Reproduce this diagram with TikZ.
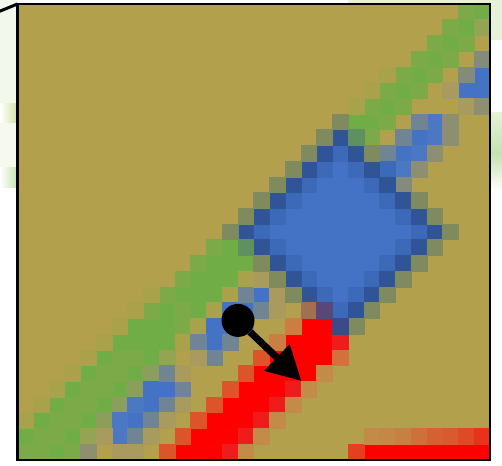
\documentclass[tikz,border=0pt]{standalone}
\usetikzlibrary{arrows.meta}
\definecolor{bgtan}{HTML}{B2A04C}
\definecolor{grn}{HTML}{70AD47}
\definecolor{grnl}{HTML}{7DAA48}
\definecolor{olv}{HTML}{A8A24B}
\definecolor{olvg}{HTML}{94A452}
\definecolor{grng}{HTML}{8C9E5C}
\definecolor{olvx}{HTML}{808A5F}
\definecolor{blu}{HTML}{4472C4}
\definecolor{blul}{HTML}{4A78C2}
\definecolor{blum}{HTML}{3C69B8}
\definecolor{blud}{HTML}{2F5597}
\definecolor{blug}{HTML}{6F8596}
\definecolor{grytan}{HTML}{A99A5E}
\definecolor{gry}{HTML}{8E8E70}
\definecolor{gryb}{HTML}{838B7B}
\definecolor{tealg}{HTML}{5E9060}
\definecolor{rd}{HTML}{FF0000}
\definecolor{rdl}{HTML}{EE1C1C}
\definecolor{orng}{HTML}{DC5429}
\definecolor{orngt}{HTML}{C28C48}
\definecolor{orngy}{HTML}{CC7E42}
\definecolor{orngm}{HTML}{D4703C}
\definecolor{brwn}{HTML}{A46E52}
\definecolor{purp}{HTML}{5A4678}
\definecolor{navy}{HTML}{3C4A8A}
\definecolor{streaka}{HTML}{CDE1A0}
\definecolor{streakb}{HTML}{C3E2AE}
\definecolor{haze}{HTML}{E6F1D8}
\begin{document}
\begin{tikzpicture}[x=15.75pt, y=-15.72pt, pix/.style={line width=0.6pt}]
  \useasboundingbox (-1.111,-0.254) rectangle (30.762,29.326);
  \fill[white] (-1.111,-0.254) rectangle (30.762,29.326);
  % backdrop round the frame
  \fill[haze!50] (-1.111,-0.254) rectangle (0,6.3);
  \shade[left color=white, right color=streaka] (-1.111,6.3) rectangle (0,7.57);
  \fill[haze!40] (-1.111,7.57) rectangle (0,10.43);
  \shade[left color=white, right color=streakb] (-1.111,10.43) rectangle (0,11.7);
  \fill[haze] (21,-0.254) rectangle (30.762,0);
  \fill[haze] (30,-0.254) rectangle (30.762,2.3);
  \shade[top color=haze, bottom color=streakb] (30,6.9) rectangle (30.762,9.5);
  \shade[top color=streakb, bottom color=white] (30,9.5) rectangle (30.762,11.9);
  % pixel grid
  \fill[bgtan] (0,0) rectangle (30,29);
  \foreach \c/\r in {29/0,28/1,27/2,26/3,25/4,24/5,23/6,21/7,22/7,13/15,12/16,13/16,14/16,11/17,12/17,13/17,10/18,11/18,12/18,9/19,11/19,7/20,8/20,9/20,6/21,7/21,8/21,9/21,5/22,8/22,4/23,7/23,3/24,6/24,2/25,5/25,1/26,4/26,0/27,3/27,2/28} \filldraw[pix, grn] (\c,\r) rectangle ++(1,1);
  \foreach \c/\r in {28/0,27/1,26/2,28/2,25/3,27/3,24/4,26/4,23/5,25/5,22/6,24/6,23/7,22/8,12/15,11/16,10/17,9/18,8/19,10/19,10/20,6/22,7/22,5/23,6/23,4/24,5/24,3/25,4/25,2/26,3/26,1/27,2/27,0/28,1/28,3/28} \filldraw[pix, grnl] (\c,\r) rectangle ++(1,1);
  \foreach \c/\r in {23/4,22/5,21/6,14/17,8/18,13/18,7/19,12/19,6/20,11/20,5/21,10/21,4/22,3/23,2/24,1/25,0/26} \filldraw[pix, olv] (\c,\r) rectangle ++(1,1);
  \foreach \c/\r in {29/1,9/22,4/27} \filldraw[pix, olvg] (\c,\r) rectangle ++(1,1);
  \foreach \c/\r in {8/23,7/24,6/25,5/26} \filldraw[pix, grng] (\c,\r) rectangle ++(1,1);
  % thin blue line
  \foreach \c/\r in {29/4,28/5,29/5,25/8,24/9,15/18,13/19,14/19,12/20,13/20,12/21,8/24,9/24,8/25,7/26} \filldraw[pix, blu] (\c,\r) rectangle ++(1,1);
  \foreach \c/\r in {26/7,26/8,25/9,24/10,7/25,6/26,6/27} \filldraw[pix, blul] (\c,\r) rectangle ++(1,1);
  \foreach \c/\r in {25/7,24/8,23/9,14/18,15/19,14/20,11/21,13/21,12/22,9/23,10/24,9/25,8/26,7/27} \filldraw[pix, blug] (\c,\r) rectangle ++(1,1);
  \foreach \c/\r in {27/5,28/6,15/17,16/18,16/19,11/22,10/23,10/25,9/26,5/27,8/27,6/28,7/28} \filldraw[pix, grytan] (\c,\r) rectangle ++(1,1);
  \foreach \c/\r in {29/6,27/7,27/8,26/9,25/10,4/28} \filldraw[pix, gry] (\c,\r) rectangle ++(1,1);
  \foreach \c/\r in {29/3,28/4,24/11} \filldraw[pix, gryb] (\c,\r) rectangle ++(1,1);
  % diamond
  \foreach \r/\a/\b in {11/19/21,12/18/22,13/17/23,14/16/24,15/17/23,16/18/22,17/19/21} \foreach \c in {\a,...,\b} \filldraw[pix, blu] (\c,\r) rectangle ++(1,1);
  \foreach \c/\r in {20/10,20/18} \filldraw[pix, blu] (\c,\r) rectangle ++(1,1);
  \foreach \c/\r in {20/9,19/10,21/10,23/10,18/11,22/11,17/12,23/12,16/13,24/13,15/14,25/14,16/15,24/15,17/16,23/16,18/17,22/17,19/18,21/18,20/19} \filldraw[pix, blum] (\c,\r) rectangle ++(1,1);
  \foreach \c/\r in {20/8,19/9,21/9,18/10,22/10,17/11,23/11,16/12,24/12,15/13,25/13,14/14,26/14,15/15,25/15,16/16,24/16,17/17,23/17,18/18,22/18,21/19} \filldraw[pix, blud] (\c,\r) rectangle ++(1,1);
  \foreach \c/\r in {20/7,19/8,18/9,22/9,17/10,16/11,15/12,25/12,14/13,26/13,13/14,27/14,26/15,15/16,25/16,16/17,24/17,17/18,23/18,22/19,21/20} \filldraw[pix, olvx] (\c,\r) rectangle ++(1,1);
  \foreach \c/\r in {21/8,14/15} \filldraw[pix, tealg] (\c,\r) rectangle ++(1,1);
  % red band
  \foreach \r/\a/\b in {20/18/19,21/17/19,22/16/19,23/15/18,24/14/16,25/13/15,26/12/14,27/11/13,28/10/12,28/22/29} \foreach \c in {\a,...,\b} \filldraw[pix, rd] (\c,\r) rectangle ++(1,1);
  \foreach \c/\r in {20/21,17/24,16/25,15/26,14/27,13/28} \filldraw[pix, rdl] (\c,\r) rectangle ++(1,1);
  \foreach \c/\r in {15/22,14/23,13/24,12/25,11/26,10/27,9/28} \filldraw[pix, orng] (\c,\r) rectangle ++(1,1);
  \foreach \c/\r in {19/23,18/24,17/25,16/26,15/27,14/28} \filldraw[pix, orngt] (\c,\r) rectangle ++(1,1);
  \foreach \c/\r in {17/20,16/21} \filldraw[pix, orngy] (\c,\r) rectangle ++(1,1);
  \filldraw[pix, orngm] (20,22) rectangle ++(1,1);
  \filldraw[pix, brwn] (18,19) rectangle ++(1,1);
  \filldraw[pix, purp] (19,19) rectangle ++(1,1);
  \filldraw[pix, navy] (20,20) rectangle ++(1,1);
  \filldraw[pix, rd!55!orngt] (21,28) rectangle ++(1,1);
  \foreach \c/\p in {22/0,23/3,24/9,25/21,26/31,27/36,28/47,29/64} \filldraw[pix, rd!\p!orngt] (\c,27) rectangle ++(1,1);
  % frame and lead
  \draw[line width=2.5pt] (0,0) rectangle (30,29);
  \coordinate (corner) at (0,0);
  \coordinate (lead) at (-1.2,0.49);
  \draw[line width=3pt] (corner) -- (lead);
  % pointer
  \node[circle, fill=black, inner sep=0pt, minimum size=33pt] (dot) at (14.0,20.13) {};
  \coordinate (tip) at (18.03,23.98);
  \draw[line width=7pt, -{Triangle[length=34pt, width=35pt]}] (dot) -- (tip);
\end{tikzpicture}
\end{document}
